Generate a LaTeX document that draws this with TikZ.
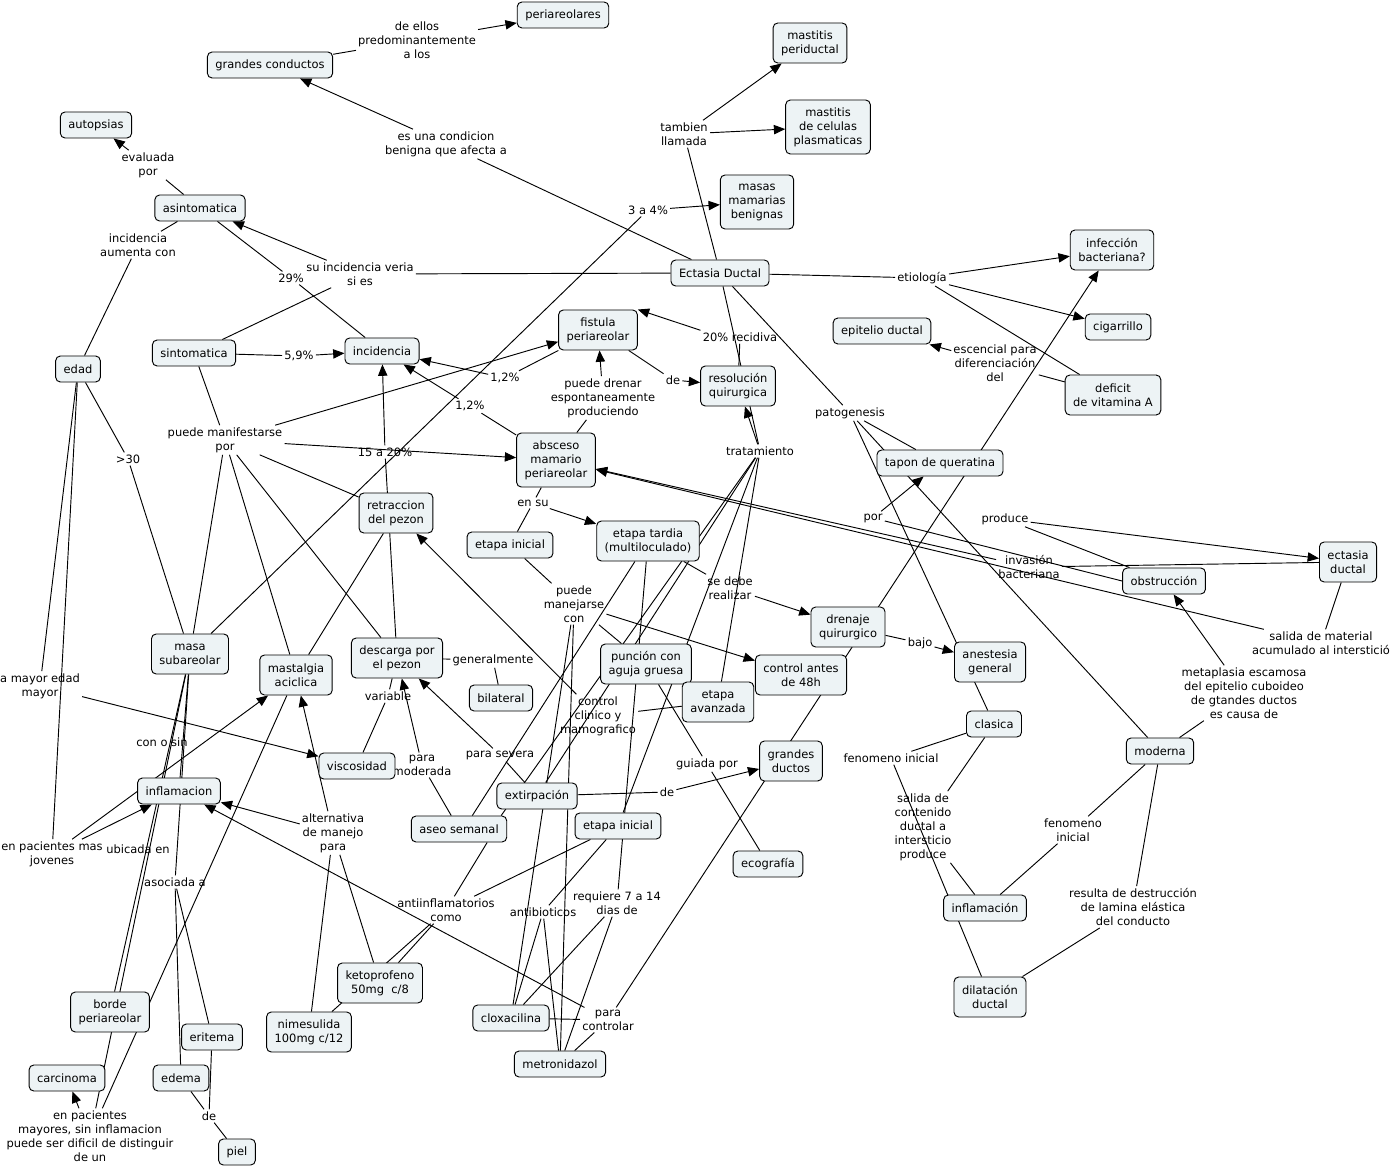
\documentclass[tikz,border=0pt]{standalone}
\usepackage{fontspec}
\setmainfont{DejaVu Sans}
\usetikzlibrary{arrows.meta,backgrounds}
\definecolor{boxfill}{RGB}{237,243,245}
\begin{document}
\begin{tikzpicture}[x=0.75pt,y=-0.75pt,
  every node/.style={font=\fontsize{8.6}{10.5}\selectfont, align=center},
  cn/.style={draw=black, fill=boxfill, rounded corners=3.5pt, line width=0.7pt, inner xsep=6pt, inner ysep=0pt, minimum height=19.5pt},
  cnb/.style={cn, minimum height=30pt},
  cnc/.style={cn, minimum height=40.5pt},
  lp/.style={inner sep=1.5pt},
  ln/.style={draw=black, line width=0.7pt},
  ar/.style={ln, -{Triangle[length=8.5pt,width=7pt]}}
]
\begin{scope}[on background layer]
\fill[white] (0,0) rectangle (1395,1169);
\end{scope}
\useasboundingbox (0,0) rectangle (1395,1169);

% ---------- linking phrases ----------
\node[lp] (deellos) at (417,40) {de ellos\\predominantemente\\a los};
\node[lp] (condicion) at (446,144) {es una condicion\\benigna que afecta a};
\node[lp] (evaluada) at (148,165) {evaluada\\por};
\node[lp] (aumenta) at (138,245) {incidencia\\aumenta con};
\node[lp] (veria) at (360,274) {su incidencia veria\\si es};
\node[lp] (p29) at (291,278) {29\%};
\node[lp] (p59) at (299,356) {5,9\%};
\node[lp] (llamada) at (684,134) {tambien\\llamada};
\node[lp] (p34) at (648,210) {3 a 4\%};
\node[lp] (etiol) at (922,278) {etiología};
\node[lp] (recidiva) at (740,337) {20\% recidiva};
\node[lp] (escencial) at (995,363) {escencial para\\diferenciación\\del};
\node[lp] (p12a) at (505,378) {1,2\%};
\node[lp] (p12b) at (470,406) {1,2\%};
\node[lp] (de1) at (673,380) {de};
\node[lp] (drenar) at (603,398) {puede drenar\\espontaneamente\\produciendo};
\node[lp] (patog) at (850,413) {patogenesis};
\node[lp] (manif) at (225,440) {puede manifestarse\\por};
\node[lp] (gt30) at (128,459) {>30};
\node[lp] (p1520) at (385,452) {15 a 20\%};
\node[lp] (trat) at (760,451) {tratamiento};
\node[lp] (ensu) at (533,503) {en su};
\node[lp] (por) at (873,518) {por};
\node[lp] (produce) at (1005,519) {produce};
\node[lp] (invasion) at (1029,567) {invasión\\bacteriana};
\node[lp] (manejarse) at (574,604) {puede\\manejarse\\con};
\node[lp] (realizar) at (730,588) {se debe\\realizar};
\node[lp] (bajo) at (920,643) {bajo};
\node[lp] (salidamat) at (1321,643) {salida de material\\acumulado al interstició};
\node[lp] (metapl) at (1244,693) {metaplasia escamosa\\del epitelio cuboideo\\de gtandes ductos\\es causa de};
\node[lp] (generalmente) at (493,660) {generalmente};
\node[lp] (mayoredad) at (40,686) {a mayor edad\\mayor};
\node[lp] (variable) at (388,696) {variable};
\node[lp] (ctrlclin) at (598,716) {control\\clinico y\\mamografico};
\node[lp] (consin) at (162,742) {con o sin};
\node[lp] (moderada) at (422,765) {para\\moderada};
\node[lp] (severa) at (500,755) {para severa};
\node[lp] (guiada) at (707,764) {guiada por};
\node[lp] (feninicial) at (891,758) {fenomeno inicial};
\node[lp] (de2) at (667,792) {de};
\node[lp] (altern) at (333,833) {alternativa\\de manejo\\para};
\node[lp] (jovenes) at (52,854) {en pacientes mas\\jovenes};
\node[lp] (ubicada) at (138,849) {ubicada en};
\node[lp] (feninicial2) at (1073,830) {fenomeno\\inicial};
\node[lp] (salidacont) at (923,827) {salida de\\contenido\\ductal a\\intersticio\\produce};
\node[lp] (asociada) at (175,882) {asociada a};
\node[lp] (antiinf) at (446,910) {antiinflamatorios\\como};
\node[lp] (antibio) at (543,912) {antibioticos};
\node[lp] (requiere) at (617,903) {requiere 7 a 14\\dias de};
\node[lp] (resulta) at (1133,907) {resulta de destrucción\\de lamina elástica\\del conducto};
\node[lp] (controlar) at (608,1020) {para\\controlar};
\node[lp] (de3) at (209,1116) {de};
\node[lp] (mayores) at (90,1136) {en pacientes\\mayores, sin inflamacion\\puede ser dificil de distinguir\\de un};

% ---------- concepts ----------
\node[cn] (periareolares) at (563,15) {periareolares};
\node[cn] (gc) at (270,65) {grandes conductos};
\node[cn] (autopsias) at (96,125) {autopsias};
\node[cn] (asin) at (200,208) {asintomatica};
\node[cn] (edad) at (78,369) {edad};
\node[cn] (sint) at (194,353) {sintomatica};
\node[cn] (incid) at (382,351) {incidencia};
\node[cnb] (mperi) at (810,43) {mastitis\\periductal};
\node[cnc] (mcel) at (828,127) {mastitis\\de celulas\\plasmaticas};
\node[cnc] (masas) at (757,202) {masas\\mamarias\\benignas};
\node[cn] (ED) at (720,273) {Ectasia Ductal};
\node[cnb] (infec) at (1112,250) {infección\\bacteriana?};
\node[cn] (cig) at (1118,327) {cigarrillo};
\node[cn] (epit) at (882,331) {epitelio ductal};
\node[cnb] (deficit) at (1113,395) {deficit\\de vitamina A};
\node[cnb] (fistula) at (598,330) {fistula\\periareolar};
\node[cnb] (resol) at (738,386) {resolución\\quirurgica};
\node[cnc] (absceso) at (556,460) {absceso\\mamario\\periareolar};
\node[cnb] (retr) at (396,513) {retraccion\\del pezon};
\node[cn] (ei1) at (510,545) {etapa inicial};
\node[cnb] (et) at (648,541) {etapa tardia\\(multiloculado)};
\node[cn] (tapon) at (940,463) {tapon de queratina};
\node[cnb] (ect2) at (1348,562) {ectasia\\ductal};
\node[cn] (obst) at (1164,581) {obstrucción};
\node[cnb] (dren) at (848,627) {drenaje\\quirurgico};
\node[cnb] (anest) at (990,662) {anestesia\\general};
\node[cnb] (masa) at (190,654) {masa\\subareolar};
\node[cnb] (mast) at (296,675) {mastalgia\\aciclica};
\node[cnb] (desc) at (397,658) {descarga por\\el pezon};
\node[cn] (bilat) at (501,698) {bilateral};
\node[cnb] (punc) at (646,664) {punción con\\aguja gruesa};
\node[cnb] (c48) at (801,675) {control antes\\de 48h};
\node[cnb] (eav) at (718,702) {etapa\\avanzada};
\node[cn] (visc) at (357,766) {viscosidad};
\node[cnb] (gd) at (791,761) {grandes\\ductos};
\node[cn] (clasica) at (994,724) {clasica};
\node[cn] (moderna) at (1160,751) {moderna};
\node[cn] (inflam) at (179,791) {inflamacion};
\node[cn] (extirp) at (537,796) {extirpación};
\node[cn] (ei2) at (618,826) {etapa inicial};
\node[cn] (aseo) at (459,829) {aseo semanal};
\node[cn] (eco) at (768,864) {ecografía};
\node[cn] (inflam2) at (985,908) {inflamación};
\node[cnb] (dilat) at (990,997) {dilatación\\ductal};
\node[cnb] (keto) at (380,983) {ketoprofeno\\50mg\ \ c/8};
\node[cnb] (nimes) at (309,1032) {nimesulida\\100mg c/12};
\node[cnb] (borde) at (110,1012) {borde\\periareolar};
\node[cn] (eritema) at (212,1037) {eritema};
\node[cn] (clox) at (511,1018) {cloxacilina};
\node[cn] (metro) at (560,1064) {metronidazol};
\node[cn] (carcin) at (67,1078) {carcinoma};
\node[cn] (edema) at (181,1078) {edema};
\node[cn] (piel) at (237,1152) {piel};

% ---------- connectors ----------
\begin{scope}[on background layer]
\draw[ln] (gc) -- (deellos);
\draw[ar] (deellos) -- (periareolares);
\draw[ln] (ED) -- (condicion);
\draw[ar] (condicion) -- (gc);
\draw[ln] (asin) -- (evaluada);
\draw[ar] (evaluada) -- (autopsias);
\draw[ln] (asin) -- (aumenta);
\draw[ln] (aumenta) -- (edad);
\draw[ln] (ED) -- (veria);
\draw[ar] (veria) -- (asin);
\draw[ln] (veria) -- (sint);
\draw[ln] (asin) -- (p29);
\draw[ln] (p29) -- (incid);
\draw[ln] (sint) -- (p59);
\draw[ar] (p59) -- (incid);
\draw[ln] (ED) -- (llamada);
\draw[ar] (llamada) -- (mperi);
\draw[ar] (llamada) -- (mcel);
\draw[ln] (masa) -- (p34);
\draw[ar] (p34) -- (masas);
\draw[ln] (ED) -- (etiol);
\draw[ar] (etiol) -- (infec);
\draw[ar] (etiol) -- (cig);
\draw[ln] (etiol) -- (deficit);
\draw[ln] (deficit) -- (escencial);
\draw[ar] (escencial) -- (epit);
\draw[ln] (resol) -- (recidiva);
\draw[ar] (recidiva.north west) -- (fistula.north east);
\draw[ln] (ED) -- (trat);
\draw[ar] (trat) -- (resol);
\draw[ln] (fistula) -- (de1);
\draw[ar] (de1) -- (resol);
\draw[ln] (absceso) -- (drenar);
\draw[ar] (drenar) -- (fistula);
\draw[ln] (fistula) -- (p12a);
\draw[ar] (p12a) -- (incid);
\draw[ln] (absceso) -- (p12b);
\draw[ln] (mast) -- (retr);
\draw[ar] (p12b) -- (incid);
\draw[ln] (desc) -- (p1520);
\draw[ar] (p1520) -- (incid);
\draw[ln] (sint) -- (manif);
\draw[ar] (manif) -- (fistula);
\draw[ar] (manif) -- (absceso);
\draw[ln] (manif) -- (retr);
\draw[ln] (manif) -- (masa);
\draw[ln] (manif) -- (mast);
\draw[ln] (manif) -- (desc);
\draw[ln] (edad) -- (gt30);
\draw[ln] (gt30) -- (masa);
\draw[ln] (edad) -- (mayoredad);
\draw[ar] (mayoredad) -- (visc);
\draw[ln] (edad) -- (jovenes);
\draw[ar] (jovenes) -- (inflam);
\draw[ar] (jovenes) -- (mast);
\draw[ln] (ED) -- (patog);
\draw[ln] (patog) -- (tapon);
\draw[ln] (patog) -- (clasica);
\draw[ln] (patog) -- (moderna);
\draw[ln] (moderna) -- (metapl);
\draw[ar] (metapl) -- (obst);
\draw[ln] (obst.west) -- (por);
\draw[ar] (por) -- (tapon);
\draw[ln] (obst) -- (produce);
\draw[ar] (produce) -- (ect2);
\draw[ln] (ect2) -- (invasion);
\draw[ar] (invasion) -- (absceso);
\draw[ln] (ect2) -- (salidamat);
\draw[ar] (salidamat) -- (absceso);
\draw[ar] (controlar) -- (infec);
\draw[ar] (controlar) -- (inflam);
\draw[ln] (clox) -- (controlar);
\draw[ln] (metro) -- (controlar);
\draw[ln] (absceso) -- (ensu);
\draw[ar] (ensu) -- (et);
\draw[ln] (ensu) -- (ei1);
\draw[ln] (ei1) -- (manejarse);
\draw[ar] (manejarse) -- (c48);
\draw[ln] (manejarse) -- (punc);
\draw[ln] (manejarse) -- (clox);
\draw[ln] (manejarse) -- (metro);
\draw[ln] (et) -- (realizar);
\draw[ar] (realizar) -- (dren);
\draw[ln] (dren) -- (bajo);
\draw[ar] (bajo) -- (anest);
\draw[ln] (desc) -- (generalmente);
\draw[ln] (generalmente) -- (bilat);
\draw[ln] (desc) -- (variable);
\draw[ln] (variable) -- (visc);
\draw[ln] (eav) -- (ctrlclin);
\draw[ar] (ctrlclin) -- (retr);
\draw[ln] (trat) -- ([xshift=-4.5pt]aseo.north east);
\draw[ln] (trat) -- (extirp);
\draw[ln] (trat) -- (ei2);
\draw[ln] (trat) -- (eav);
\draw[ln] (extirp) -- (severa);
\draw[ar] (severa) -- (desc);
\draw[ln] (aseo) -- (moderada);
\draw[ar] (moderada) -- (desc);
\draw[ln] (extirp) -- (de2);
\draw[ar] (de2) -- (gd);
\draw[ln] (punc) -- (guiada);
\draw[ln] (guiada) -- (eco);
\draw[ln] (ei2) -- (antiinf);
\draw[ln] ([xshift=-15pt]aseo.south east) -- (antiinf);
\draw[ln] (et) -- ([xshift=10pt]aseo.north);
\draw[ln] (antiinf) -- (keto);
\draw[ln] (antiinf) -- (nimes);
\draw[ln] (ei2) -- (antibio);
\draw[ln] (antibio) -- (clox);
\draw[ln] (antibio) -- (metro);
\draw[ln] (et) -- (requiere);
\draw[ln] (requiere) -- (clox);
\draw[ln] (requiere) -- (metro);
\draw[ar] (altern) -- (inflam);
\draw[ar] (altern) -- (mast);
\draw[ln] (altern) -- (keto);
\draw[ln] (altern) -- (nimes);
\draw[ln] (masa) -- (inflam);
\draw[ln] (masa) -- (borde);
\draw[ln] (masa) -- (mayores);
\draw[ln] (masa) -- (asociada);
\draw[ar] (mayores) -- (carcin);
\draw[ln] (mayores) -- (mast);
\draw[ln] (asociada) -- (edema);
\draw[ln] (asociada) -- (eritema);
\draw[ln] (edema) -- (de3);
\draw[ln] (eritema) -- (de3);
\draw[ln] (de3) -- (piel);
\draw[ln] (clasica) -- (feninicial);
\draw[ln] (feninicial) -- (dilat);
\draw[ln] (clasica) -- (salidacont);
\draw[ln] (salidacont) -- (inflam2);
\draw[ln] (moderna) -- (feninicial2);
\draw[ln] (feninicial2) -- (inflam2);
\draw[ln] (moderna) -- (resulta);
\draw[ln] (resulta) -- (dilat);
\end{scope}
\end{tikzpicture}
\end{document}
